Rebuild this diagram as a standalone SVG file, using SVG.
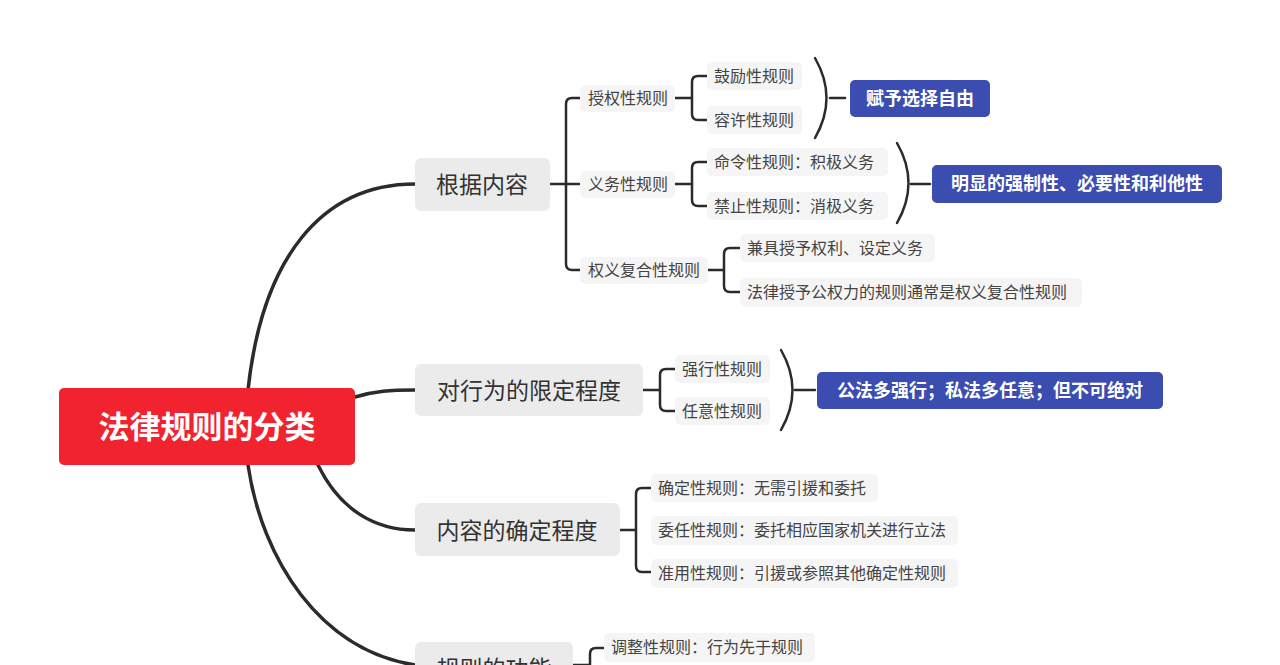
<svg xmlns="http://www.w3.org/2000/svg" width="1280" height="665" viewBox="0 0 1280 665">
<style>
text{font-family:"Noto Sans CJK SC","Liberation Sans",sans-serif;}
.l2 rect{fill:#ebebeb}
.l2 text{font-size:23px;fill:#333}
.lf rect{fill:#f5f5f5}
.lf text{font-size:16px;fill:#444}
.sm rect{fill:#3b4db1}
.sm text{font-size:18px;fill:#fff;font-weight:bold}
.c{fill:none;stroke:#2b2b2b;stroke-width:3.5;stroke-linecap:round;stroke-linejoin:round}
.t{fill:none;stroke:#2b2b2b;stroke-width:2.5;stroke-linecap:round}
</style>
<rect width="1280" height="665" fill="#fff"/>
<g id="connectors">
<path class="c" d="M248,390 C262,260 320,184 415,184"/>
<path class="c" d="M355,397 C375,391 390,390 415,390"/>
<path class="c" d="M318,465 C340,510 375,530 415,530"/>
<path class="c" d="M248,465 C262,560 320,650 415,665"/>
<path class="t" d="M550,184H566M580,98H572Q566,98 566,104V264Q566,270 572,270H580M566,184H580"/>
<path class="t" d="M675,98H692M707,76H698Q692,76 692,82V114Q692,120 698,120H707"/>
<path class="t" d="M675,184H692M707,162H698Q692,162 692,168V200Q692,206 698,206H707"/>
<path class="t" d="M708,270H724M740,248H730Q724,248 724,254V286Q724,292 730,292H740"/>
<path class="t" d="M815,58 Q838,98 815,138M830,98H845"/>
<path class="t" d="M897,143 Q920,183 897,223M911,184H930"/>
<path class="t" d="M643,390H660M675,369H666Q660,369 660,375V405Q660,411 666,411H675"/>
<path class="t" d="M781,350 Q804,390 781,430M795,390H815"/>
<path class="t" d="M620,530H636M651,488H642Q636,488 636,494V566Q636,572 642,572H651"/>
<path class="t" d="M573,665H590M604,648H596Q590,648 590,654V665"/>
</g>
<g id="root"><rect x="59" y="388" width="296" height="77" rx="5" fill="#f0232f"/><text x="207" y="438" text-anchor="middle" font-size="31" font-weight="bold" fill="#fff">法律规则的分类</text></g>
<g id="n1" class="l2"><rect x="415" y="158" width="135" height="53" rx="6"/><text x="482" y="193" text-anchor="middle">根据内容</text></g>
<g id="n2" class="l2"><rect x="415" y="364" width="228" height="52" rx="6"/><text x="529" y="399" text-anchor="middle">对行为的限定程度</text></g>
<g id="n3" class="l2"><rect x="415" y="503" width="205" height="53" rx="6"/><text x="517" y="539" text-anchor="middle">内容的确定程度</text></g>
<g id="n4" class="l2"><rect x="415" y="642" width="158" height="50" rx="6"/><text x="494" y="677" text-anchor="middle">规则的功能</text></g>
<g id="a1" class="lf"><rect x="580" y="85" width="95" height="27" rx="5"/><text x="588" y="104">授权性规则</text></g>
<g id="a2" class="lf"><rect x="580" y="171" width="95" height="27" rx="5"/><text x="588" y="190">义务性规则</text></g>
<g id="a3" class="lf"><rect x="580" y="257" width="128" height="27" rx="5"/><text x="588" y="276">权义复合性规则</text></g>
<g id="b1" class="lf"><rect x="707" y="62" width="95" height="28" rx="5"/><text x="714" y="82">鼓励性规则</text></g>
<g id="b2" class="lf"><rect x="707" y="106" width="95" height="28" rx="5"/><text x="714" y="126">容许性规则</text></g>
<g id="b3" class="lf"><rect x="707" y="148" width="181" height="28" rx="5"/><text x="714" y="168">命令性规则：积极义务</text></g>
<g id="b4" class="lf"><rect x="707" y="192" width="181" height="28" rx="5"/><text x="714" y="212">禁止性规则：消极义务</text></g>
<g id="b5" class="lf"><rect x="740" y="234" width="195" height="28" rx="5"/><text x="747" y="254">兼具授予权利、设定义务</text></g>
<g id="b6" class="lf"><rect x="740" y="278" width="342" height="29" rx="5"/><text x="747" y="298">法律授予公权力的规则通常是权义复合性规则</text></g>
<g id="s1" class="sm"><rect x="850" y="80" width="140" height="37" rx="5"/><text x="920" y="105" text-anchor="middle">赋予选择自由</text></g>
<g id="s2" class="sm"><rect x="932" y="165" width="290" height="38" rx="5"/><text x="1077" y="190" text-anchor="middle">明显的强制性、必要性和利他性</text></g>
<g id="c1" class="lf"><rect x="675" y="355" width="95" height="28" rx="5"/><text x="682" y="375">强行性规则</text></g>
<g id="c2" class="lf"><rect x="675" y="397" width="95" height="28" rx="5"/><text x="682" y="417">任意性规则</text></g>
<g id="s3" class="sm"><rect x="817" y="372" width="346" height="37" rx="5"/><text x="990" y="397" text-anchor="middle">公法多强行；私法多任意；但不可绝对</text></g>
<g id="d1" class="lf"><rect x="651" y="474" width="227" height="28" rx="5"/><text x="658" y="494">确定性规则：无需引援和委托</text></g>
<g id="d2" class="lf"><rect x="651" y="516" width="307" height="29" rx="5"/><text x="658" y="536">委任性规则：委托相应国家机关进行立法</text></g>
<g id="d3" class="lf"><rect x="651" y="559" width="307" height="29" rx="5"/><text x="658" y="579">准用性规则：引援或参照其他确定性规则</text></g>
<g id="e1" class="lf"><rect x="604" y="633" width="211" height="29" rx="5"/><text x="611" y="653">调整性规则：行为先于规则</text></g>
</svg>
